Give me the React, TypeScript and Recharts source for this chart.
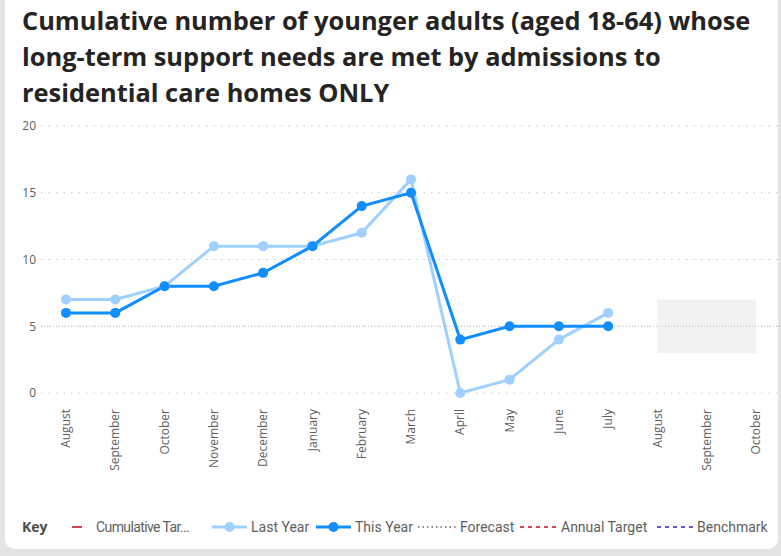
import React from 'react';
import { LineChart, Line, XAxis, YAxis, CartesianGrid, ReferenceArea, ReferenceLine } from 'recharts';

const monthKeys = ['Aug-1', 'Sep-1', 'Oct-1', 'Nov', 'Dec', 'Jan', 'Feb', 'Mar', 'Apr', 'May', 'Jun', 'Jul', 'Aug-2', 'Sep-2', 'Oct-2'];
const monthLabels = ['August', 'September', 'October', 'November', 'December', 'January', 'February', 'March', 'April', 'May', 'June', 'July', 'August', 'September', 'October'];
const lastYear: (number | null)[] = [7, 7, 8, 11, 11, 11, 12, 16, 0, 1, 4, 6, null, null, null];
const thisYear: (number | null)[] = [6, 6, 8, 8, 9, 11, 14, 15, 4, 5, 5, 5, null, null, null];
const yTicks = [0, 5, 10, 15, 20];
const forecastBand = { x1: 'Aug-2', x2: 'Oct-2', y1: 3, y2: 7 };
const benchmarkValue = 5;

const titleLines = [
  'Cumulative number of younger adults (aged 18-64) whose',
  'long-term support needs are met by admissions to',
  'residential care homes ONLY',
];

const data = monthKeys.map((k, i) => ({ key: k, label: monthLabels[i], lastYear: lastYear[i], thisYear: thisYear[i] }));

const FONT = '"Open Sans", "Noto Sans", sans-serif';
const LFONT = 'Roboto, "Open Sans", sans-serif';
const LIGHT = '#9FD0FF';
const DARK = '#118DFF';

const XTick = (props: any) => {
  const { x, y, payload } = props;
  const idx = monthKeys.indexOf(payload.value);
  const yy = y + 8;
  return (
    <text
      x={x}
      y={yy}
      transform={`rotate(-90 ${x} ${yy})`}
      textAnchor="end"
      dy="0.35em"
      fontSize={12}
      fill="#605E5C"
      fontFamily={FONT}
    >
      {monthLabels[idx]}
    </text>
  );
};

const LegendLine = ({ color, dash, dot, w = 36 }: { color: string; dash?: string; dot?: boolean; w?: number }) => (
  <svg width={w} height={14} style={{ display: 'block' }}>
    <line x1={0} y1={7} x2={w} y2={7} stroke={color} strokeWidth={dot ? 3 : 2} strokeDasharray={dash} />
    {dot && <circle cx={w / 2} cy={7} r={5} fill={color} />}
  </svg>
);

const legendItems = [
  { iconLeft: 72, textLeft: 96, label: 'Cumulative Tar...', color: '#D64550', kind: 'short' },
  { iconLeft: 212, textLeft: 251, label: 'Last Year', color: LIGHT, kind: 'dot' },
  { iconLeft: 316, textLeft: 355, label: 'This Year', color: DARK, kind: 'dot' },
  { iconLeft: 418, textLeft: 460, label: 'Forecast', color: '#8A8A8A', kind: 'dotted' },
  { iconLeft: 520, textLeft: 561, label: 'Annual Target', color: '#D64550', kind: 'dash' },
  { iconLeft: 657, textLeft: 697, label: 'Benchmark', color: '#6B50C8', kind: 'dash' },
];

export default function App() {
  return (
    <div style={{ position: 'fixed', left: 0, top: 0, width: 781, height: 556, background: '#E4E4E4', overflow: 'hidden' }}>
      <div style={{ position: 'absolute', left: 5, top: -12, width: 773, height: 561, background: '#FFFFFF', borderRadius: 10 }} />
      <div
        style={{
          position: 'absolute',
          left: 22,
          top: 2,
          fontFamily: '"Open Sans", sans-serif',
          fontWeight: 700,
          fontSize: 25.4,
          lineHeight: '36px',
          color: '#252423',
          whiteSpace: 'nowrap',
        }}
      >
        {titleLines.map((t, i) => (
          <div key={i}>{t}</div>
        ))}
      </div>
      <div style={{ position: 'absolute', left: 0, top: 110 }}>
        <LineChart width={781} height={365} data={data} margin={{ top: 16, right: 0, left: 0, bottom: 0 }}>
          <CartesianGrid vertical={false} stroke="#C8C8C8" strokeDasharray="1.5 6" />
          <ReferenceArea
            x1={forecastBand.x1}
            x2={forecastBand.x2}
            y1={forecastBand.y1}
            y2={forecastBand.y2}
            fill="#F2F2F2"
            fillOpacity={1}
            stroke="none"
          />
          <ReferenceLine y={benchmarkValue} stroke="#BDBDBD" strokeDasharray="1 2" />
          <XAxis
            dataKey="key"
            scale="point"
            padding={{ left: 25, right: 25 }}
            axisLine={false}
            tickLine={false}
            interval={0}
            height={82}
            tick={<XTick />}
          />
          <YAxis
            domain={[0, 20]}
            ticks={yTicks}
            width={41}
            axisLine={false}
            tickLine={false}
            tickSize={0}
            tickMargin={5}
            tick={{ fontSize: 12, fill: '#605E5C', fontFamily: FONT }}
          />
          <Line
            dataKey="lastYear"
            stroke={LIGHT}
            strokeWidth={3}
            dot={{ r: 5, fill: LIGHT, stroke: 'none' }}
            activeDot={false}
            isAnimationActive={false}
            connectNulls={false}
          />
          <Line
            dataKey="thisYear"
            stroke={DARK}
            strokeWidth={3}
            dot={{ r: 5, fill: DARK, stroke: 'none' }}
            activeDot={false}
            isAnimationActive={false}
            connectNulls={false}
          />
        </LineChart>
      </div>
      <div style={{ position: 'absolute', left: 0, top: 517, width: 781, height: 20, fontFamily: LFONT, fontSize: 14, color: '#605E5C' }}>
        <span style={{ position: 'absolute', left: 22, top: 0, lineHeight: '20px', fontWeight: 700, color: '#4A4A4A', fontFamily: FONT }}>Key</span>
        {legendItems.map((it, i) => (
          <React.Fragment key={i}>
            <div style={{ position: 'absolute', left: it.iconLeft, top: 3 }}>
              {it.kind === 'short' && <LegendLine color={it.color} w={10} />}
              {it.kind === 'dot' && <LegendLine color={it.color} dot w={35} />}
              {it.kind === 'dotted' && <LegendLine color={it.color} dash="1.5 3" w={38} />}
              {it.kind === 'dash' && <LegendLine color={it.color} dash="4 4" w={38} />}
            </div>
            <span
              style={{
                position: 'absolute',
                left: it.textLeft,
                top: 0,
                lineHeight: '20px',
                whiteSpace: 'nowrap',
                letterSpacing: it.kind === 'short' ? -0.6 : 0,
              }}
            >
              {it.label}
            </span>
          </React.Fragment>
        ))}
      </div>
    </div>
  );
}
